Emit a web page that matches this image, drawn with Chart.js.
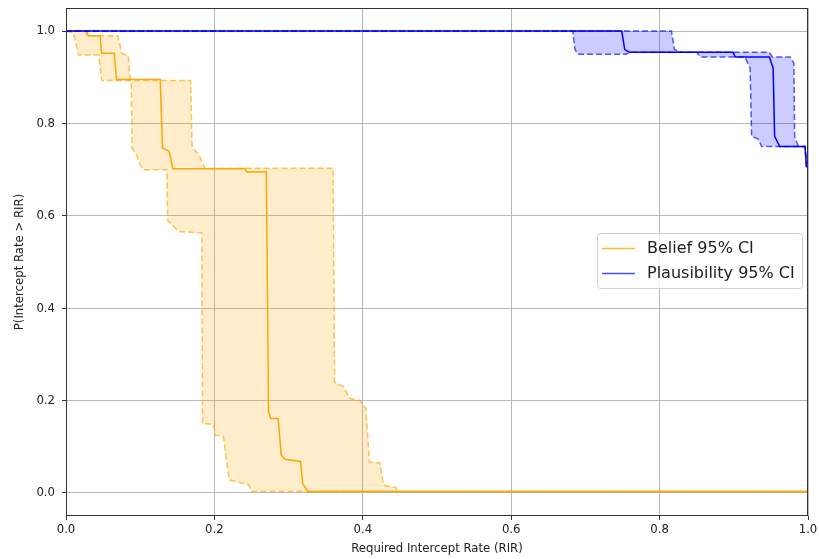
<!DOCTYPE html>
<html>
<head>
<meta charset="utf-8">
<script src="https://cdn.jsdelivr.net/npm/chart.js@4.4.0/dist/chart.umd.min.js"></script>
<style>
  html, body { margin: 0; padding: 0; background: #fff; overflow: hidden; }
  #chart { display: block; }
</style>
</head>
<body>
<canvas id="chart" width="819" height="559"></canvas>
<script>
// belief (orange) - mean and 95% CI bounds
const beliefX = [0, 0.028, 0.030, 0.046, 0.048, 0.065, 0.068, 0.127, 0.130, 0.139, 0.144, 0.241, 0.244, 0.270, 0.273, 0.276, 0.286, 0.290, 0.295, 0.316, 0.319, 0.326, 1.0];
const beliefY = [1.0, 1.0, 0.99, 0.99, 0.952, 0.952, 0.895, 0.895, 0.747, 0.740, 0.702, 0.702, 0.695, 0.695, 0.176, 0.161, 0.161, 0.082, 0.073, 0.068, 0.020, 0.003, 0.003];
const beliefLowX = [0, 0.010, 0.017, 0.044, 0.048, 0.088, 0.089, 0.095, 0.100, 0.104, 0.136, 0.137, 0.152, 0.183, 0.184, 0.199, 0.201, 0.212, 0.220, 0.246, 0.250, 1.0];
const beliefLowY = [1.0, 0.995, 0.948, 0.948, 0.893, 0.893, 0.747, 0.732, 0.710, 0.700, 0.700, 0.590, 0.566, 0.563, 0.150, 0.148, 0.125, 0.123, 0.028, 0.018, 0.003, 0.003];
const beliefHighX = [0, 0.026, 0.028, 0.070, 0.075, 0.084, 0.086, 0.089, 0.168, 0.170, 0.178, 0.183, 0.187, 0.360, 0.362, 0.374, 0.382, 0.396, 0.404, 0.409, 0.423, 0.428, 0.445, 0.447, 1.0];
const beliefHighY = [1.0, 1.0, 0.99, 0.99, 0.952, 0.946, 0.898, 0.893, 0.893, 0.747, 0.735, 0.718, 0.703, 0.703, 0.240, 0.230, 0.205, 0.200, 0.183, 0.067, 0.065, 0.017, 0.011, 0.003, 0.003];

// plausibility (blue) - mean and 95% CI bounds
const plausX = [0, 0.749, 0.753, 0.760, 0.899, 0.902, 0.948, 0.953, 0.955, 0.962, 0.996, 0.998, 1.0];
const plausY = [1.0, 1.0, 0.96, 0.954, 0.954, 0.944, 0.944, 0.92, 0.772, 0.75, 0.75, 0.707, 0.707];
const plausLowX = [0, 0.683, 0.686, 0.690, 0.755, 0.760, 0.850, 0.855, 0.915, 0.922, 0.924, 0.933, 0.9375, 0.996, 0.998, 1.0];
const plausLowY = [1.0, 1.0, 0.96, 0.950, 0.950, 0.954, 0.954, 0.944, 0.944, 0.92, 0.772, 0.766, 0.75, 0.75, 0.707, 0.707];
const plausHighX = [0, 0.816, 0.820, 0.830, 0.948, 0.952, 0.976, 0.981, 0.982, 0.987, 0.996, 0.998, 1.0];
const plausHighY = [1.0, 1.0, 0.96, 0.954, 0.954, 0.944, 0.944, 0.93, 0.772, 0.75, 0.75, 0.707, 0.707];

// ticks and labels
const xTicks = [0, 0.2, 0.4, 0.6, 0.8, 1.0];
const yTicks = [0, 0.2, 0.4, 0.6, 0.8, 1.0];
const legendLabels = ['Belief 95% CI', 'Plausibility 95% CI'];
const legendColors = ['rgba(255,165,0,0.8)', 'rgba(0,0,255,0.7)'];

const pts = (xs, ys) => xs.map((x, i) => ({ x: x, y: ys[i] }));

const FONT = 'DejaVu Sans';
const AXIS_FONT = '"DejaVu Sans Condensed", "DejaVu Sans"';
const ORANGE = '#ffa500';
const ORANGE_DASH = 'rgba(255,165,0,0.65)';
const BLUE = '#0000ff';
const BLUE_DASH = 'rgba(0,0,255,0.65)';

function line(data, color, dashed, order, fill, bg) {
    return {
        data: data,
        borderColor: color,
        borderWidth: 1.5,
        borderDash: dashed ? [6, 3] : [],
        pointRadius: 0,
        tension: 0,
        fill: fill || false,
        backgroundColor: bg || 'transparent',
        order: order
    };
}

// frame round the plot area
const framePlugin = {
    id: 'frame',
    afterDatasetsDraw(chart) {
        const a = chart.chartArea, ctx = chart.ctx;
        ctx.save();
        ctx.strokeStyle = '#333';
        ctx.lineWidth = 1;
        ctx.strokeRect(Math.round(a.left) + 0.5, Math.round(a.top) + 0.5,
            Math.round(a.right - a.left) - 1, Math.round(a.bottom - a.top) - 1);
        ctx.restore();
    }
};

// legend drawn inside the axes, like matplotlib
const legendPlugin = {
    id: 'innerLegend',
    afterDraw(chart) {
        const ctx = chart.ctx;
        const x = 597, y = 233, w = 205, h = 55;
        ctx.save();
        ctx.beginPath();
        ctx.roundRect(x + 0.5, y + 0.5, w, h, 3);
        ctx.fillStyle = 'rgba(255,255,255,0.8)';
        ctx.fill();
        ctx.strokeStyle = '#d0d0d0';
        ctx.lineWidth = 1;
        ctx.stroke();
        ctx.font = '16px "' + FONT + '"';
        ctx.textBaseline = 'middle';
        legendLabels.forEach((lab, i) => {
            const cy = y + 15.5 + i * 25;
            ctx.strokeStyle = legendColors[i];
            ctx.lineWidth = 1.5;
            ctx.beginPath();
            ctx.moveTo(602, cy);
            ctx.lineTo(635, cy);
            ctx.stroke();
            ctx.fillStyle = '#222';
            ctx.fillText(lab, 647, cy + 0.5);
        });
        ctx.restore();
    }
};

new Chart(document.getElementById('chart'), {
    type: 'line',
    data: {
        datasets: [
            line(pts(beliefLowX, beliefLowY), ORANGE_DASH, true, 6),
            line(pts(beliefHighX, beliefHighY), ORANGE_DASH, true, 5, '-1', 'rgba(255,165,0,0.2)'),
            line(pts(beliefX, beliefY), ORANGE, false, 4),
            line(pts(plausLowX, plausLowY), BLUE_DASH, true, 3),
            line(pts(plausHighX, plausHighY), BLUE_DASH, true, 2, '-1', 'rgba(0,0,255,0.2)'),
            line(pts(plausX, plausY), BLUE, false, 1)
        ]
    },
    options: {
        responsive: false,
        animation: false,
        devicePixelRatio: 1,
        layout: { padding: { top: 8, right: 11, left: 0, bottom: 0 } },
        plugins: {
            legend: { display: false },
            tooltip: { enabled: false }
        },
        scales: {
            x: {
                type: 'linear',
                min: 0,
                max: 1,
                afterFit: (s) => { s.height = 43; s.paddingLeft = 0; s.paddingRight = 0; },
                afterBuildTicks: (s) => { s.ticks = xTicks.map(v => ({ value: v })); },
                grid: { color: '#b8b8b8', lineWidth: 1, tickColor: '#333', tickLength: 4 },
                border: { display: false },
                ticks: {
                    color: '#222',
                    font: { family: AXIS_FONT, size: 13 },
                    padding: 2,
                    maxRotation: 0,
                    callback: (v) => Number(v).toFixed(1)
                },
                title: {
                    display: true,
                    text: 'Required Intercept Rate (RIR)',
                    color: '#222',
                    font: { family: AXIS_FONT, size: 13 },
                    padding: { top: 0, bottom: 3 }
                }
            },
            y: {
                type: 'linear',
                min: -0.05,
                max: 1.05,
                afterFit: (s) => { s.width = 66; s.paddingTop = 0; s.paddingBottom = 0; },
                afterBuildTicks: (s) => { s.ticks = yTicks.map(v => ({ value: v })); },
                grid: { color: '#b8b8b8', lineWidth: 1, tickColor: '#333', tickLength: 4 },
                border: { display: false },
                ticks: {
                    color: '#222',
                    font: { family: AXIS_FONT, size: 13 },
                    padding: 7,
                    callback: (v) => Number(v).toFixed(1)
                },
                title: {
                    display: true,
                    text: 'P(Intercept Rate > RIR)',
                    color: '#222',
                    font: { family: AXIS_FONT, size: 13 },
                    padding: { top: 12, bottom: 0 }
                }
            }
        }
    },
    plugins: [framePlugin, legendPlugin]
});
</script>
</body>
</html>
